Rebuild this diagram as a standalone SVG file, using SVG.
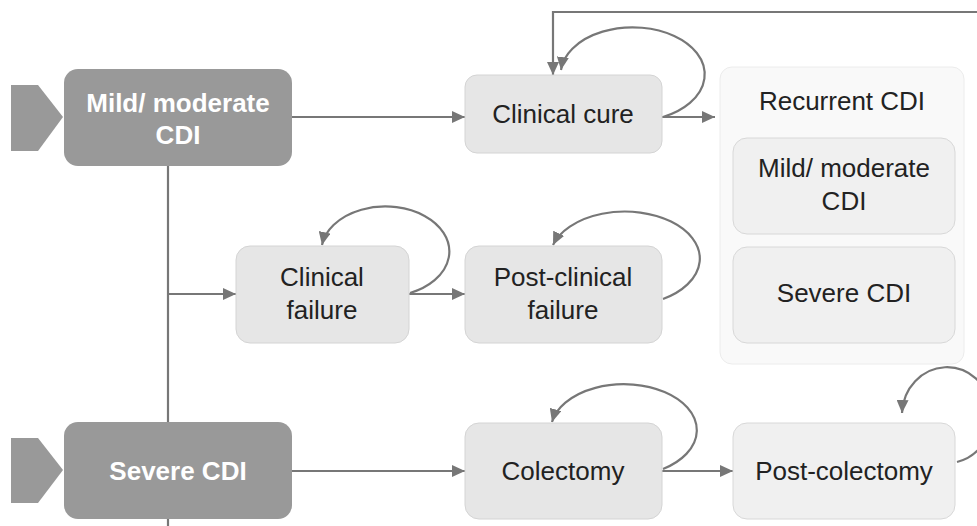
<svg xmlns="http://www.w3.org/2000/svg" width="977" height="526" viewBox="0 0 977 526">
<defs>
<marker id="ah" markerUnits="userSpaceOnUse" markerWidth="14" markerHeight="12" refX="13" refY="6" orient="auto">
<path d="M0,0 L13,6 L0,12 z" fill="#777"/>
</marker>
<style>
.ln{fill:none;stroke:#777;stroke-width:2.2}
.dark{fill:#999999}
.lt{fill:#e6e6e6;stroke:#d4d4d4;stroke-width:1}
.lt2{fill:#f0f0f0;stroke:#d8d8d8;stroke-width:1}
.wt{font-family:"Liberation Sans",Arial,sans-serif;font-size:26px;font-weight:bold;fill:#fff;text-anchor:middle}
.tx{font-family:"Liberation Sans",Arial,sans-serif;font-size:26px;fill:#222;text-anchor:middle}
</style>
</defs>
<rect width="977" height="526" fill="#fff"/>
<g id="connectors">
<path class="ln" d="M168 166 V526"/>
<path class="ln" d="M168 294 H236" marker-end="url(#ah)"/>
<path class="ln" d="M292 117 H465" marker-end="url(#ah)"/>
<path class="ln" d="M292 471 H465" marker-end="url(#ah)"/>
<path class="ln" d="M662 117 H715" marker-end="url(#ah)"/>
<path class="ln" d="M409 294 H465" marker-end="url(#ah)"/>
<path class="ln" d="M662 471 H733" marker-end="url(#ah)"/>
<path class="ln" d="M977 12 H553 V75" marker-end="url(#ah)"/>
<path class="ln" d="M663 117 A72 47 0 1 0 561 70" marker-end="url(#ah)"/>
<path class="ln" d="M410 293 A64 45 0 1 0 322 245" marker-end="url(#ah)"/>
<path class="ln" d="M663 299 A75 47 0 1 0 553 245" marker-end="url(#ah)"/>
<path class="ln" d="M663 469 A73 46 0 1 0 552 422" marker-end="url(#ah)"/>
<path class="ln" d="M957 462 A45 48 0 1 0 902 413" marker-end="url(#ah)"/>
</g>
<g id="mild">
<polygon class="dark" points="11,85 38,85 63,117 38,151 11,151"/>
<rect class="dark" x="64" y="69" width="228" height="97" rx="14"/>
<text class="wt" x="178" y="112">Mild/ moderate</text>
<text class="wt" x="178" y="144">CDI</text>
</g>
<g id="severe">
<polygon class="dark" points="11,438 38,438 63,470 38,503 11,503"/>
<rect class="dark" x="64" y="422" width="228" height="97" rx="14"/>
<text class="wt" x="178" y="480">Severe CDI</text>
</g>
<g id="cure">
<rect class="lt" x="465" y="75" width="197" height="78" rx="12"/>
<text class="tx" x="563" y="123">Clinical cure</text>
</g>
<g id="recurrent">
<rect x="720" y="67" width="244" height="297" rx="12" fill="#f9f9f9" stroke="#ececec"/>
<text class="tx" x="842" y="110">Recurrent CDI</text>
</g>
<g id="rec-mild">
<rect class="lt2" x="733" y="138" width="222" height="96" rx="14"/>
<text class="tx" x="844" y="177">Mild/ moderate</text>
<text class="tx" x="844" y="210">CDI</text>
</g>
<g id="rec-severe">
<rect class="lt2" x="733" y="247" width="222" height="96" rx="14"/>
<text class="tx" x="844" y="302">Severe CDI</text>
</g>
<g id="failure">
<rect class="lt" x="236" y="246" width="173" height="97" rx="14"/>
<text class="tx" x="322" y="286">Clinical</text>
<text class="tx" x="322" y="319">failure</text>
</g>
<g id="postfailure">
<rect class="lt" x="465" y="246" width="197" height="97" rx="14"/>
<text class="tx" x="563" y="286">Post-clinical</text>
<text class="tx" x="563" y="319">failure</text>
</g>
<g id="colectomy">
<rect class="lt" x="465" y="423" width="197" height="96" rx="14"/>
<text class="tx" x="563" y="480">Colectomy</text>
</g>
<g id="postcolectomy">
<rect class="lt2" x="733" y="423" width="222" height="96" rx="14"/>
<text class="tx" x="844" y="480">Post-colectomy</text>
</g>
</svg>
